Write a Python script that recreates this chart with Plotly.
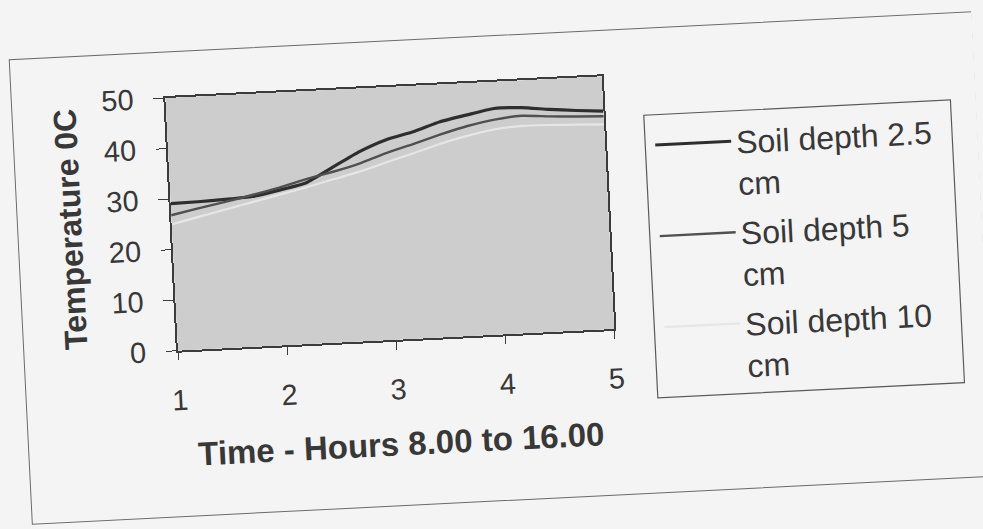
import plotly.graph_objects as go

# Half-hourly soil temperature readings, 8.00 to 16.00 (axis labelled 1..5)
time_axis = [1.0, 1.25, 1.5, 1.75, 2.0, 2.25, 2.5, 2.75, 3.0,
             3.25, 3.5, 3.75, 4.0, 4.25, 4.5, 4.75, 5.0]
depth_2_5cm = [29.1, 29.2, 29.4, 29.7, 30.7, 31.9, 34.7, 37.5, 39.6,
               40.9, 42.6, 43.7, 44.7, 44.6, 44.0, 43.5, 43.1]
depth_5cm = [26.8, 27.9, 28.9, 30.0, 31.2, 32.6, 33.8, 35.2, 37.0,
             38.5, 40.1, 41.5, 42.5, 43.0, 42.6, 42.3, 42.1]
depth_10cm = [25.0, 26.2, 27.4, 28.6, 29.8, 31.0, 32.3, 33.6, 35.2,
              36.7, 38.3, 39.6, 40.6, 41.0, 40.9, 40.7, 40.5]

series_names = ["Soil depth 2.5<br>cm", "Soil depth 5<br>cm", "Soil depth 10<br>cm"]
series_colors = ["#2e2e2e", "#505050", "#e6e6e6"]
series_widths = [3.2, 2.4, 2.2]

x_ticks = [1, 2, 3, 4, 5]
y_ticks = [0, 10, 20, 30, 40, 50]

FONT = "Liberation Sans, Arial, sans-serif"
INK = "#383838"
PAGE = "#f4f4f4"

W, H = 983, 529
L, R, T, B = 174, 372, 82, 194
PW, PH = W - L - R, H - T - B


def px(x):
    return (x - L) / PW


def py(y):
    return (H - B - y) / PH


fig = go.Figure()
for i, (name, ys, col, lw) in enumerate(zip(series_names,
                                            [depth_2_5cm, depth_5cm, depth_10cm],
                                            series_colors, series_widths)):
    fig.add_trace(go.Scatter(x=time_axis, y=ys, mode="lines", name=name,
                             legendgroup=f"g{i}",
                             line=dict(color=col, width=lw, shape="spline",
                                       smoothing=0.5)))

# outer chart frame and legend box
shapes = [
    dict(type="rect", xref="paper", yref="paper",
         x0=px(20), x1=px(984), y0=py(501), y1=py(36),
         line=dict(color="#6a6a6a", width=1), layer="below"),
    dict(type="rect", xref="paper", yref="paper",
         x0=px(651), x1=px(958), y0=py(406), y1=py(123),
         line=dict(color="#5a5a5a", width=1.2), layer="below"),
]

fig.update_layout(
    width=W, height=H,
    margin=dict(l=L, r=R, t=T, b=B, pad=0),
    paper_bgcolor=PAGE,
    plot_bgcolor="#cdcdcd",
    font=dict(family=FONT, color=INK, size=29),
    shapes=shapes,
    showlegend=True,
    legend=dict(x=px(656), y=py(126), xanchor="left", yanchor="top",
                bgcolor="rgba(0,0,0,0)", borderwidth=0,
                font=dict(family=FONT, size=32, color=INK),
                itemwidth=76, valign="top", tracegroupgap=5,
                maxheight=420),
    xaxis=dict(range=[1, 5], tickvals=x_ticks, ticktext=[str(v) for v in x_ticks],
               showgrid=False, zeroline=False,
               showline=True, linecolor="#3c3c3c", linewidth=1.5, mirror=True,
               ticks="outside", ticklen=8, tickcolor="#3c3c3c", tickwidth=1.3,
               ticklabelstandoff=15,
               title=dict(text="<b>Time - Hours 8.00 to 16.00</b>",
                          font=dict(size=33, family=FONT, color=INK), standoff=28)),
    yaxis=dict(range=[0, 50], tickvals=y_ticks,
               showgrid=False, zeroline=False,
               showline=True, linecolor="#3c3c3c", linewidth=2, mirror=True,
               ticks="outside", ticklen=10, tickcolor="#3c3c3c", tickwidth=1.3,
               ticklabelstandoff=14,
               title=dict(text="<b>Temperature 0C</b>",
                          font=dict(size=32, family=FONT, color=INK), standoff=16)),
)

# the sheet sits slightly tilted on the page
post = """
var gd = document.getElementById('{plot_id}');
document.documentElement.style.overflow = 'hidden';
document.body.style.overflow = 'hidden';
document.body.style.margin = '0';
document.body.style.background = '#f4f4f4';
gd.style.transformOrigin = '491.5px 264.5px';
gd.style.transform = 'rotate(-2.85deg)';
"""

fig.write_html("out.html", post_script=post)
